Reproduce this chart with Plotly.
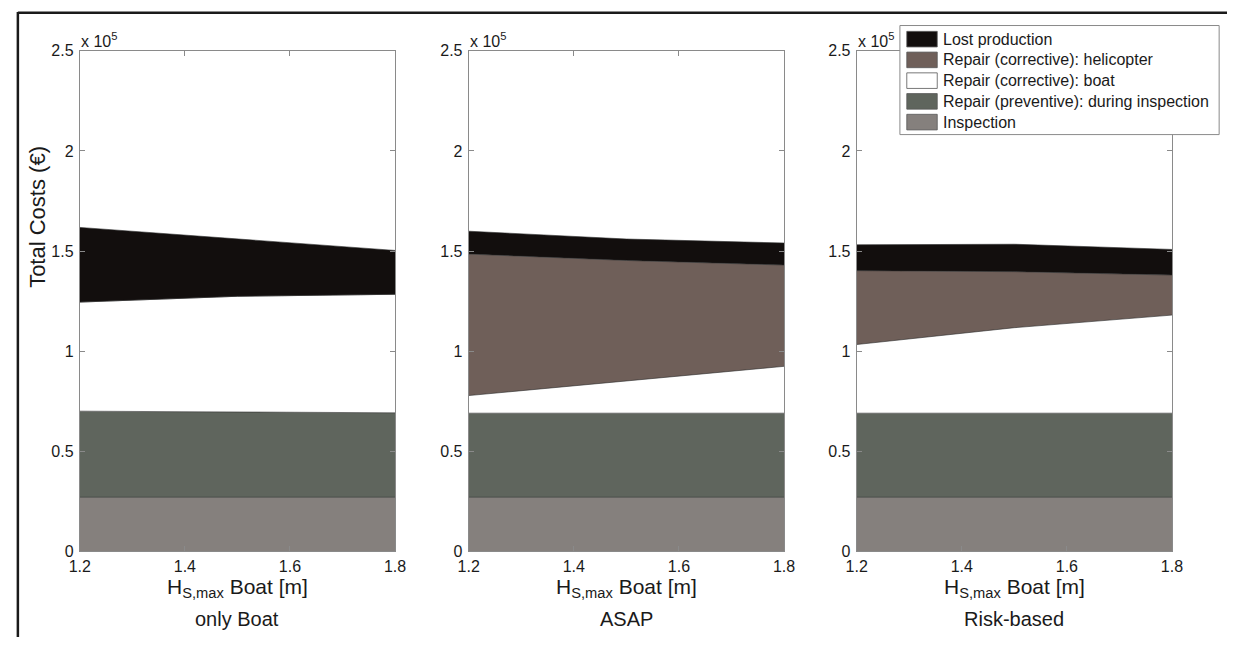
import plotly.graph_objects as go

W, H = 1238, 646

# Wave-height limit for boat access [m]
hs_max = [1.2, 1.5, 1.8]

# Cost components (EUR) per strategy, stacked bottom -> top
strategies = ["only Boat", "ASAP", "Risk-based"]

inspection = {
    "only Boat": [27000, 27000, 27000],
    "ASAP": [27000, 27000, 27000],
    "Risk-based": [27000, 27000, 27000],
}
preventive = {
    "only Boat": [43000, 42500, 42200],
    "ASAP": [42000, 42000, 42000],
    "Risk-based": [42000, 42000, 42000],
}
corrective_boat = {
    "only Boat": [54500, 57900, 59200],
    "ASAP": [8800, 16100, 23400],
    "Risk-based": [34300, 42700, 49000],
}
corrective_heli = {
    "only Boat": [0, 0, 0],
    "ASAP": [70700, 60200, 50600],
    "Risk-based": [36900, 28000, 20000],
}
lost_production = {
    "only Boat": [37300, 28700, 21900],
    "ASAP": [11400, 10700, 11000],
    "Risk-based": [12900, 13700, 12800],
}

components = [
    ("Inspection", inspection, "#85807d"),
    ("Repair (preventive): during inspection", preventive, "#5f655d"),
    ("Repair (corrective): boat", corrective_boat, "#ffffff"),
    ("Repair (corrective): helicopter", corrective_heli, "#6f5f59"),
    ("Lost production", lost_production, "#120e0d"),
]

y_ticks = [0, 50000, 100000, 150000, 200000, 250000]
y_tick_text = ["0", "0.5", "1", "1.5", "2", "2.5"]
x_ticks = [1.2, 1.4, 1.6, 1.8]
x_tick_text = ["1.2", "1.4", "1.6", "1.8"]

FONT = "Liberation Sans, Arial, sans-serif"
AXIS_GREY = "#8a8a8a"
TEXT = "#1a1a1a"


def px(x):
    return x / W


def py(y):
    return 1 - y / H


panel_px = [(70, 391), (466, 787), (861, 1182)]
top_px, bottom_px = 44, 558

fig = go.Figure()
layout = dict(
    width=W,
    height=H,
    margin=dict(l=0, r=0, t=0, b=0),
    paper_bgcolor="white",
    plot_bgcolor="white",
    showlegend=False,
    font=dict(family=FONT, color=TEXT, size=15),
)

annotations = []
shapes = []

for i, name in enumerate(strategies):
    xa = "x" if i == 0 else f"x{i + 1}"
    ya = "y" if i == 0 else f"y{i + 1}"
    for label, data, color in components:
        fig.add_trace(
            go.Scatter(
                x=hs_max,
                y=data[name],
                xaxis=xa,
                yaxis=ya,
                mode="lines",
                stackgroup=f"s{i}",
                fillcolor=color,
                line=dict(color="#2a2a2a", width=0.6),
                name=label,
                hoverinfo="x+y+name",
            )
        )
    x0, x1 = panel_px[i]
    common_axis = dict(
        showgrid=False,
        zeroline=False,
        showline=True,
        linecolor=AXIS_GREY,
        linewidth=1,
        mirror="ticks",
        ticks="inside",
        ticklen=5,
        tickcolor=AXIS_GREY,
        tickfont=dict(family=FONT, size=16, color=TEXT),
    )
    layout[f"xaxis{'' if i == 0 else i + 1}"] = dict(
        common_axis,
        domain=[px(x0), px(x1)],
        anchor=ya,
        range=[1.2, 1.8],
        tickvals=x_ticks,
        ticktext=x_tick_text,
    )
    layout[f"yaxis{'' if i == 0 else i + 1}"] = dict(
        common_axis,
        domain=[py(bottom_px), py(top_px)],
        anchor=xa,
        range=[0, 250000],
        tickvals=y_ticks,
        ticktext=y_tick_text,
        ticklabelstandoff=2,
    )
    # exponent label above the y axis
    annotations.append(dict(
        x=px(x0 - 1), y=py(top_px + 1), xref="paper", yref="paper",
        text="x 10<sup>5</sup>", showarrow=False,
        xanchor="left", yanchor="bottom",
        font=dict(family=FONT, size=16, color=TEXT),
    ))
    cx = (x0 + x1) / 2
    annotations.append(dict(
        x=px(cx), y=py(596), xref="paper", yref="paper",
        text="H<sub>S,max</sub> Boat [m]", showarrow=False,
        xanchor="center", yanchor="middle",
        font=dict(family=FONT, size=21, color=TEXT),
    ))
    annotations.append(dict(
        x=px(cx), y=py(627), xref="paper", yref="paper",
        text=name, showarrow=False,
        xanchor="center", yanchor="middle",
        font=dict(family=FONT, size=20, color=TEXT),
    ))

annotations.append(dict(
    x=px(27), y=py(215), xref="paper", yref="paper",
    text="Total Costs (€)", showarrow=False, textangle=-90,
    xanchor="center", yanchor="middle",
    font=dict(family=FONT, size=22, color=TEXT),
))

# legend box drawn in paper space
lx0, ly0, lx1, ly1 = 905, 18, 1230, 130
shapes.append(dict(
    type="rect", xref="paper", yref="paper",
    x0=px(lx0), x1=px(lx1), y0=py(ly1), y1=py(ly0),
    line=dict(color=AXIS_GREY, width=1), fillcolor="white", layer="above",
))
legend_rows = list(reversed(components))
for k, (label, _, color) in enumerate(legend_rows):
    yc = 32 + k * 21.3
    shapes.append(dict(
        type="rect", xref="paper", yref="paper",
        x0=px(912), x1=px(943), y0=py(yc + 8), y1=py(yc - 8),
        line=dict(color="#555555", width=0.8), fillcolor=color, layer="above",
    ))
    annotations.append(dict(
        x=px(947), y=py(yc), xref="paper", yref="paper",
        text=label, showarrow=False, xanchor="left", yanchor="middle",
        font=dict(family=FONT, size=16, color=TEXT),
    ))

# outer frame (top and left edges)
shapes.append(dict(
    type="line", xref="paper", yref="paper",
    x0=px(7), x1=px(W), y0=py(5), y1=py(5),
    line=dict(color="#1a1a1a", width=2.5),
))
shapes.append(dict(
    type="line", xref="paper", yref="paper",
    x0=px(7), x1=px(7), y0=py(4), y1=py(H),
    line=dict(color="#1a1a1a", width=2.5),
))

layout["annotations"] = annotations
layout["shapes"] = shapes
fig.update_layout(**layout)

fig.write_html("out.html")
